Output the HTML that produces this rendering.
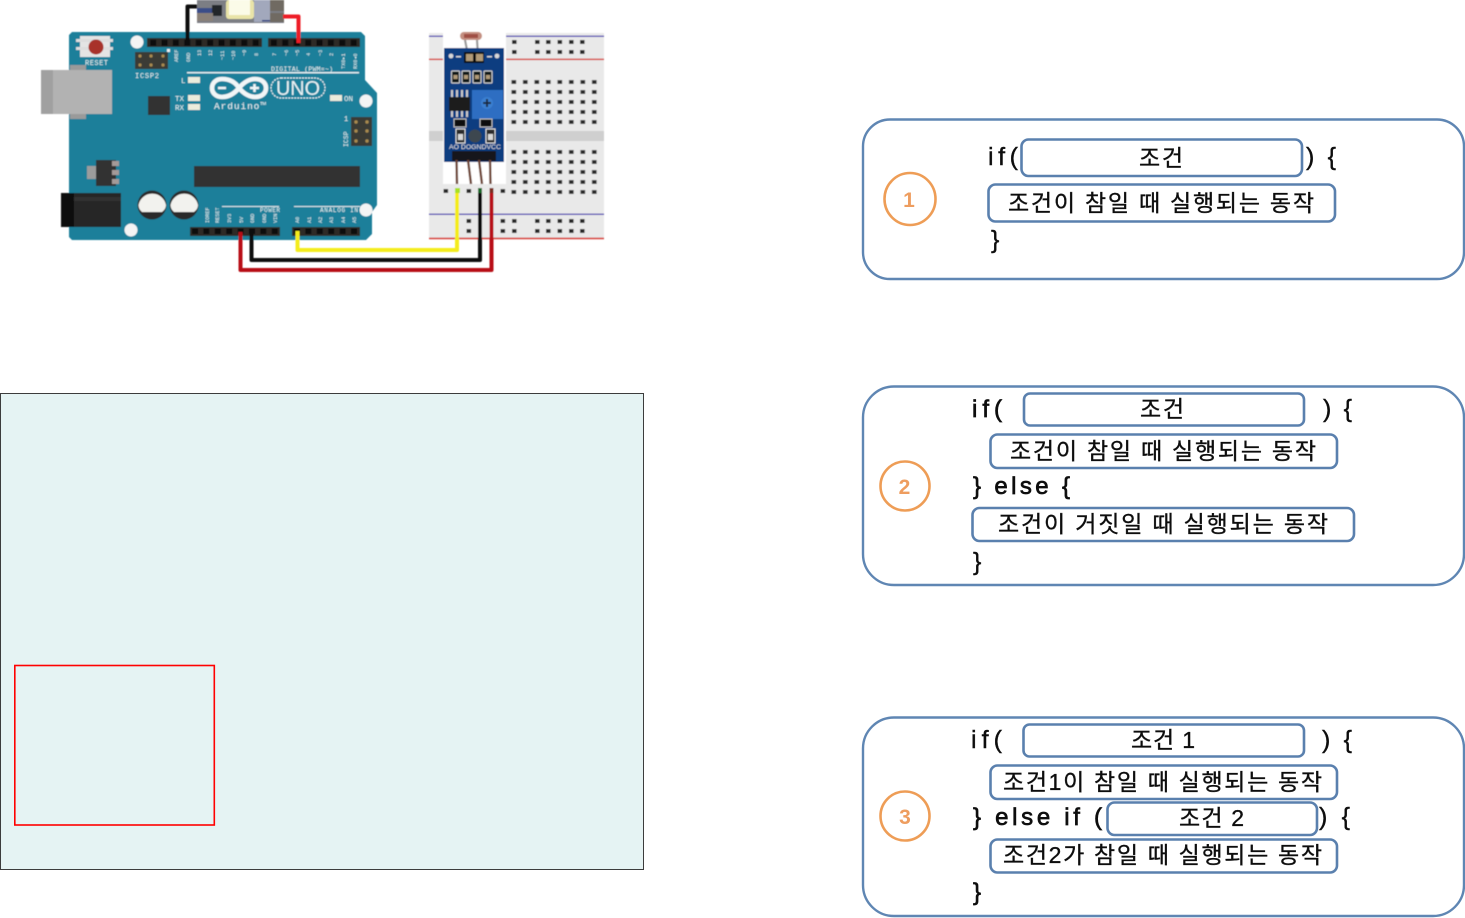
<!DOCTYPE html>
<html lang="ko">
<head>
<meta charset="utf-8">
<title>Arduino if statements</title>
<style>
html,body{margin:0;padding:0;background:#fff;width:1465px;height:918px;overflow:hidden}
svg{display:block}
text{font-family:"Liberation Sans","Noto Sans CJK KR",sans-serif}
.p{fill:#fff;stroke:#5f86b3;stroke-width:2.4}
.b{fill:#fff;stroke:#5a80ae;stroke-width:2.6}
.k{font-size:23px;fill:#111;stroke:#111;stroke-width:.35}
.c{font-size:25px;fill:#111;stroke:#111;stroke-width:.4}
.cb{font-size:24px;fill:#111;stroke:#111;stroke-width:.7}
.n{font-size:21px;font-weight:bold;fill:#ee9d5e;text-anchor:middle}
.o{fill:#fff;stroke:#ee9d57;stroke-width:2.6}
.t{fill:#e8f4f4;font-size:7px;font-family:"Liberation Mono",monospace}
.s{font-size:5.2px}
</style>
</head>
<body>
<svg width="1465" height="918" viewBox="0 0 1465 918" xmlns="http://www.w3.org/2000/svg">
<defs>
<filter id="soft" x="-2%" y="-2%" width="104%" height="104%"><feGaussianBlur stdDeviation="0.55"/></filter>
<filter id="soft2" x="-2%" y="-2%" width="104%" height="104%"><feGaussianBlur stdDeviation="0.3"/></filter>
<pattern id="hole" width="11.5" height="10" patternUnits="userSpaceOnUse" x="508.2" y="77">
<rect x="3.300" y="3" width="4.600" height="4" fill="#2c2c2c"/>
</pattern>
<pattern id="pin" width="11.4" height="10" patternUnits="userSpaceOnUse" x="147.6" y="38">
<rect x="2.5" y="1.8" width="6" height="6" fill="#0c0c0c"/>
</pattern>
<pattern id="pin2" width="11.4" height="10" patternUnits="userSpaceOnUse" x="268.4" y="38">
<rect x="2.5" y="1.8" width="6" height="6" fill="#0c0c0c"/>
</pattern>
<pattern id="pin3" width="11.4" height="9" patternUnits="userSpaceOnUse" x="189.5" y="227">
<rect x="2.5" y="1.5" width="6" height="5.5" fill="#0c0c0c"/>
</pattern>
<pattern id="pin4" width="11.4" height="9" patternUnits="userSpaceOnUse" x="291.5" y="227">
<rect x="2.5" y="1.5" width="6" height="5.5" fill="#0c0c0c"/>
</pattern>
</defs>

<g filter="url(#soft)">
<!-- Breadboard -->
<rect x="429" y="33" width="175" height="206" fill="#e9e9e9"/>
<rect x="429" y="131" width="175" height="10" fill="#cfcfcf"/>
<rect x="429" y="35.500" width="175" height="1.500" fill="#5f56b8"/>
<rect x="429" y="58.500" width="175" height="1.600" fill="#d8504a"/>
<rect x="429" y="213.500" width="175" height="1.500" fill="#5f56b8"/>
<rect x="429" y="237.500" width="175" height="1.800" fill="#d8504a"/>
<rect x="508" y="77" width="92" height="50" fill="url(#hole)"/>
<g fill="#2c2c2c">
<rect x="512" y="40" width="4.600" height="4"/><rect x="535" y="40" width="4.600" height="4"/><rect x="546" y="40" width="4.600" height="4"/><rect x="557.500" y="40" width="4.600" height="4"/><rect x="569" y="40" width="4.600" height="4"/><rect x="580" y="40" width="4.600" height="4"/>
<rect x="512" y="50" width="4.600" height="4"/><rect x="535" y="50" width="4.600" height="4"/><rect x="546" y="50" width="4.600" height="4"/><rect x="557.500" y="50" width="4.600" height="4"/><rect x="569" y="50" width="4.600" height="4"/><rect x="580" y="50" width="4.600" height="4"/>
<rect x="466.500" y="219" width="4.600" height="4"/><rect x="500.500" y="219" width="4.600" height="4"/><rect x="512" y="219" width="4.600" height="4"/><rect x="535" y="219" width="4.600" height="4"/><rect x="546" y="219" width="4.600" height="4"/><rect x="557.500" y="219" width="4.600" height="4"/><rect x="569" y="219" width="4.600" height="4"/><rect x="580" y="219" width="4.600" height="4"/>
<rect x="466.500" y="229" width="4.600" height="4"/><rect x="500.500" y="229" width="4.600" height="4"/><rect x="512" y="229" width="4.600" height="4"/><rect x="535" y="229" width="4.600" height="4"/><rect x="546" y="229" width="4.600" height="4"/><rect x="557.500" y="229" width="4.600" height="4"/><rect x="569" y="229" width="4.600" height="4"/><rect x="580" y="229" width="4.600" height="4"/>
<rect x="443.500" y="189" width="4.600" height="4"/><rect x="466.500" y="189" width="4.600" height="4"/><rect x="500.500" y="189" width="4.600" height="4"/>
</g>
<rect x="508" y="147" width="92" height="50" fill="url(#hole)"/>

<!-- Sensor module -->
<rect x="443" y="33" width="63" height="151" fill="#fff"/>
<rect x="460" y="32" width="22" height="8" rx="4" fill="#c48f80"/>
<rect x="464" y="34" width="14" height="4" fill="#a05044"/>
<path d="M465 40 L468 55 M477 40 L478 55" stroke="#999" stroke-width="2.200" fill="none"/>
<rect x="444" y="48" width="60" height="114" fill="#0d3c80"/>
<circle cx="451" cy="56" r="2.4" fill="#d8d8d8"/><circle cx="497" cy="56" r="2.4" fill="#d8d8d8"/>
<rect x="464" y="52" width="20" height="11" fill="#111"/>
<rect x="466" y="54" width="7" height="7" fill="#b09a78"/><rect x="476" y="54" width="7" height="7" fill="#b09a78"/>
<g fill="#ddd"><rect x="456" y="56" width="5" height="1.4"/><rect x="487" y="56" width="5" height="1.4"/></g>
<g fill="#101418" stroke="#c9c9c9" stroke-width="1.2">
<rect x="451.5" y="71" width="8" height="12" rx="1"/><rect x="462" y="71" width="8" height="12" rx="1"/>
<rect x="473" y="71" width="8" height="12" rx="1"/><rect x="484" y="71" width="8" height="12" rx="1"/>
</g>
<g fill="#b09a78"><rect x="453.5" y="75" width="4" height="4"/><rect x="464" y="75" width="4" height="4"/><rect x="475" y="75" width="4" height="4"/><rect x="486" y="75" width="4" height="4"/></g>
<rect x="449" y="97" width="21" height="14" fill="#1a1a1a"/>
<g fill="#ccc"><rect x="451" y="90" width="2" height="7"/><rect x="456" y="90" width="2" height="7"/><rect x="461" y="90" width="2" height="7"/><rect x="466" y="90" width="2" height="7"/><rect x="451" y="111" width="2" height="6"/><rect x="456" y="111" width="2" height="6"/><rect x="461" y="111" width="2" height="6"/><rect x="466" y="111" width="2" height="6"/></g>
<rect x="472" y="90" width="31" height="29" fill="#2f6ec2"/>
<circle cx="487" cy="103" r="6" fill="#3b7fd0"/>
<path d="M483 103h8M487 99v8" stroke="#1a2a40" stroke-width="2"/>
<rect x="454" y="119" width="12" height="8" fill="#111" stroke="#bbb"/>
<rect x="480" y="119" width="12" height="8" fill="#111" stroke="#bbb"/>
<rect x="456" y="129" width="9" height="14" fill="#2a2a2a" stroke="#ddd"/><rect x="458" y="134" width="5" height="6" fill="#d8d8d8"/>
<rect x="486" y="129" width="9" height="14" fill="#2a2a2a" stroke="#ddd"/><rect x="488" y="134" width="5" height="6" fill="#d8d8d8"/>
<circle cx="475" cy="136" r="6.5" fill="#3d4650"/>
<text x="449" y="149" font-size="6" fill="#e0e0e0" textLength="52" lengthAdjust="spacingAndGlyphs">AO DOGNDVCC</text>
<rect x="452" y="151" width="44" height="10" fill="#17191d"/>
<g stroke="#6e4436" stroke-width="2.400" fill="none">
<path d="M456.5 160 L457 184"/><path d="M468 160 L471 184"/><path d="M479 160 L482 184"/><path d="M490 160 L490.5 184"/>
</g>

<!-- Board -->
<path d="M72 32 H361 L365 36 V80 L377 93 V205 L372 212 V234 L366 240 H72 L69 237 V35 Z" fill="#1f7f9a"/>
<rect x="41" y="70" width="71" height="44" fill="#b2b2b2"/>
<rect x="41" y="70" width="12" height="44" fill="#a0a0a0"/>
<rect x="70" y="65" width="16" height="5" fill="#9a9a9a"/><rect x="70" y="114" width="16" height="5" fill="#9a9a9a"/>
<circle cx="137" cy="42" r="6.5" fill="#f4f4f4"/><circle cx="366" cy="101" r="6.5" fill="#f4f4f4"/>
<circle cx="366" cy="210" r="6.5" fill="#f4f4f4"/><circle cx="131" cy="230" r="6.5" fill="#f4f4f4"/>
<!-- reset -->
<rect x="80" y="36" width="30" height="21" fill="#e4e4e4"/>
<rect x="76" y="39" width="37" height="3" fill="#ddd"/><rect x="76" y="47" width="37" height="3" fill="#ddd"/>
<circle cx="96" cy="47" r="7.5" fill="#a8322c"/>
<text x="85" y="65" class="t" textLength="23">RESET</text>
<!-- ICSP2 -->
<rect x="135" y="52" width="33" height="17" fill="#3a3a36"/>
<g fill="#a98a50"><circle cx="140" cy="56" r="1.6"/><circle cx="151" cy="56" r="1.6"/><circle cx="163" cy="56" r="1.6"/><circle cx="140" cy="65" r="1.6"/><circle cx="151" cy="65" r="1.6"/><circle cx="163" cy="65" r="1.6"/></g>
<text x="135" y="78" class="t" textLength="24">ICSP2</text>
<!-- headers -->
<rect x="147" y="38" width="115" height="9" fill="#2d2c28"/><rect x="147.6" y="38" width="114" height="9" fill="url(#pin)"/>
<rect x="268" y="38" width="92" height="9" fill="#2d2c28"/><rect x="268.4" y="38" width="91" height="9" fill="url(#pin2)"/>
<rect x="190" y="227" width="90" height="9" fill="#2d2c28"/><rect x="189.5" y="227" width="91" height="9" fill="url(#pin3)"/>
<rect x="292" y="227" width="68" height="9" fill="#2d2c28"/><rect x="291.5" y="227" width="68.4" height="9" fill="url(#pin4)"/>
<rect x="167" y="49" width="3" height="3" fill="#f0f0f0"/>
<!-- pin labels -->
<g class="t" style="font-size:5.200px">
<text class="t s" transform="translate(178,62) rotate(-90)">AREF</text><text class="t s" transform="translate(190,62) rotate(-90)">GND</text>
<text class="t s" transform="translate(201,56) rotate(-90)">13</text><text class="t s" transform="translate(212,56) rotate(-90)">12</text>
<text class="t s" transform="translate(224,60) rotate(-90)">~11</text><text class="t s" transform="translate(235,60) rotate(-90)">~10</text>
<text class="t s" transform="translate(246,56) rotate(-90)">~9</text><text class="t s" transform="translate(258,56) rotate(-90)">8</text>
<text class="t s" transform="translate(276,56) rotate(-90)">7</text><text class="t s" transform="translate(288,56) rotate(-90)">~6</text>
<text class="t s" transform="translate(299,56) rotate(-90)">~5</text><text class="t s" transform="translate(310,56) rotate(-90)">4</text>
<text class="t s" transform="translate(322,56) rotate(-90)">~3</text><text class="t s" transform="translate(333,56) rotate(-90)">2</text>
<text class="t s" transform="translate(345,69) rotate(-90)">TX0▸1</text><text class="t s" transform="translate(357,69) rotate(-90)">RX0◂0</text>
<text class="t s" transform="translate(209,223) rotate(-90)">IOREF</text><text class="t s" transform="translate(219,223) rotate(-90)">RESET</text>
<text class="t s" transform="translate(231,223) rotate(-90)">3V3</text><text class="t s" transform="translate(243,223) rotate(-90)">5V</text>
<text class="t s" transform="translate(254,223) rotate(-90)">GND</text><text class="t s" transform="translate(266,223) rotate(-90)">GND</text>
<text class="t s" transform="translate(277,223) rotate(-90)">VIN</text>
<text class="t s" transform="translate(299,223) rotate(-90)">A0</text><text class="t s" transform="translate(311,223) rotate(-90)">A1</text>
<text class="t s" transform="translate(322,223) rotate(-90)">A2</text><text class="t s" transform="translate(333,223) rotate(-90)">A3</text>
<text class="t s" transform="translate(345,223) rotate(-90)">A4</text><text class="t s" transform="translate(356,223) rotate(-90)">A5</text>
</g>
<text x="271" y="71" class="t" textLength="62" style="font-size:6.5px">DIGITAL (PWM=~)</text>
<rect x="187" y="72" width="172" height="1.4" fill="#e8f2f4"/>
<text x="260" y="212" class="t" textLength="20" style="font-size:6px">POWER</text>
<text x="320" y="212" class="t" textLength="38" style="font-size:6px">ANALOG IN</text>
<rect x="222" y="206" width="57" height="1" fill="#d8e8ec"/><rect x="294" y="206" width="66" height="1" fill="#d8e8ec"/>
<!-- LEDs -->
<text x="181" y="83" class="t" style="font-size:7.5px">L</text>
<text x="175" y="101" class="t" style="font-size:7.5px">TX</text>
<text x="175" y="110" class="t" style="font-size:7.5px">RX</text>
<g fill="#ececdc"><rect x="188" y="77" width="12" height="6"/><rect x="188" y="95" width="12" height="6"/><rect x="188" y="104" width="12" height="6"/><rect x="330" y="95" width="12" height="6"/></g>
<text x="344" y="101" class="t" style="font-size:7.5px">ON</text>
<rect x="148" y="96" width="22" height="19" fill="#333333"/>
<!-- logo -->
<g fill="none" stroke="#f2f6f7" stroke-width="4.600">
<path d="M239 88 C234 80 226 79 222 79 C216 79 212 83 212 88 C212 93 216 97 222 97 C228 97 234 94 239 88 C244 82 250 79 255 79 C262 79 266 83 266 88 C266 93 262 97 255 97 C250 97 244 94 239 88 Z"/>
</g>
<path d="M218 88h8M250 88h9M254.500 84v8" stroke="#f2f6f7" stroke-width="2.600"/>
<rect x="271" y="78" width="54" height="20" rx="10" fill="none" stroke="#e8f2f4" stroke-width="1.2" stroke-dasharray="2 1"/>
<text x="298" y="95" font-size="20" fill="#e8f2f4" text-anchor="middle" textLength="44" lengthAdjust="spacingAndGlyphs">UNO</text>
<text x="214" y="109" font-size="9.500" fill="#eef5f6" textLength="52" style="font-family:'Liberation Mono',monospace">Arduino™</text>
<!-- ICSP -->
<rect x="351" y="117" width="21" height="29" fill="#3a3a36"/>
<g fill="#a98a50"><circle cx="356" cy="122" r="1.7"/><circle cx="367" cy="122" r="1.7"/><circle cx="356" cy="131" r="1.7"/><circle cx="367" cy="131" r="1.7"/><circle cx="356" cy="141" r="1.7"/><circle cx="367" cy="141" r="1.7"/></g>
<text x="344" y="121" class="t" style="font-size:7px">1</text>
<text transform="translate(348,147) rotate(-90)" class="t" style="font-size:6.500px">ICSP</text>
<!-- regulator -->
<rect x="87" y="166" width="10" height="13" fill="#9c9c9c"/>
<rect x="96" y="160" width="20" height="26" fill="#333"/>
<rect x="112" y="161" width="7" height="5" fill="#a49a98"/><rect x="112" y="170" width="7" height="5" fill="#a49a98"/><rect x="112" y="179" width="7" height="5" fill="#a49a98"/>
<!-- chip -->
<rect x="194" y="166" width="166" height="21" fill="#333"/>
<!-- jack -->
<rect x="61" y="193" width="60" height="34" fill="#252525"/>
<rect x="61" y="193" width="13" height="34" fill="#0e0e0e"/>
<rect x="74" y="197" width="47" height="4" fill="#333"/>
<!-- caps -->
<circle cx="152" cy="205" r="14.500" fill="#2a2a2a"/>
<circle cx="184" cy="205" r="14.500" fill="#2a2a2a"/>
<path d="M138.500 205 A14 14 0 0 1 166 205 Q166 209 162 212 H142 Q138.500 209 138.500 205Z" fill="#f2f2ee"/>
<path d="M170.500 205 A14 14 0 0 1 198 205 Q198 209 194 212 H174 Q170.500 209 170.500 205Z" fill="#f2f2ee"/>

<!-- LED module top -->
<rect x="197" y="0" width="87" height="23" fill="#7c7e84"/>
<rect x="197" y="8" width="24" height="5" fill="#3a4d88"/>
<rect x="212" y="5" width="10" height="11" fill="#20252a"/>
<rect x="197" y="13" width="16" height="8" fill="#8a8078"/>
<rect x="226" y="0" width="28" height="19" rx="3" fill="#e9e4a8"/>
<rect x="229" y="0" width="21" height="15" fill="#fbfbe8"/>
<rect x="254" y="0" width="16" height="22" fill="#a2a8bc"/>
<rect x="270" y="0" width="14" height="11" fill="#6f6a62"/>
<rect x="270" y="13" width="14" height="9" fill="#6f6a62"/>
<rect x="262" y="20" width="8" height="1.5" fill="#2d3f80"/>

<!-- Wires -->
<g fill="none" stroke-linejoin="round">
<path d="M197 6.500 H187.500 V45" stroke="#0c0c0c" stroke-width="4"/>
<path d="M283 16.500 H298.500 V43" stroke="#ee1c25" stroke-width="4"/>
<path d="M457 190 V250 H297.500 V231" stroke="#f4ec1c" stroke-width="4"/>
<path d="M480 189 V260 H251.500 V232" stroke="#111" stroke-width="4"/>
<path d="M491.500 190 V270 H240.500 V232" stroke="#b80f14" stroke-width="4"/>
</g>
<rect x="455" y="188" width="5" height="5" fill="#a8e020"/>
<rect x="478" y="188" width="4" height="5" fill="#1f6a2a"/>
<rect x="489.500" y="188" width="4" height="5" fill="#7a2a1a"/>
</g>

<!-- Teal panel -->
<rect x="0.500" y="393.500" width="643" height="476" fill="#e5f3f3" stroke="#3c3c3c" stroke-width="1"/>
<rect x="14.800" y="665.500" width="199.500" height="159.500" fill="none" stroke="#f00" stroke-width="1.600"/>

<g filter="url(#soft2)">
<!-- Panel 1 -->
<rect class="p" x="863" y="119.500" width="601" height="159.500" rx="27"/>
<ellipse class="o" cx="910" cy="199" rx="25.500" ry="26"/>
<text class="n" x="909" y="207">1</text>
<rect class="b" x="1021.500" y="139.500" width="280.500" height="36.500" rx="7"/>
<rect class="b" x="988.500" y="184.500" width="346.500" height="37" rx="7"/>
<text class="c" x="988" y="165" textLength="30">if(</text>
<text class="k" x="1139" y="166" textLength="44">조건</text>
<text class="c" x="1306" y="165" textLength="30">) {</text>
<text class="k" x="1008" y="211" textLength="306">조건이 참일 때 실행되는 동작</text>
<text class="c" x="991" y="248">}</text>

<!-- Panel 2 -->
<rect class="p" x="863" y="386.500" width="601" height="198.500" rx="31"/>
<circle class="o" cx="905" cy="486" r="24.500"/>
<text class="n" x="904.500" y="494">2</text>
<rect class="b" x="1024" y="393.500" width="280" height="32" rx="6"/>
<rect class="b" x="990.500" y="434.500" width="346.500" height="33.500" rx="7"/>
<rect class="b" x="972.500" y="508" width="381.500" height="33" rx="7"/>
<text class="cb" x="972" y="417" textLength="30">if(</text>
<text class="k" x="1140" y="417" textLength="44">조건</text>
<text class="c" x="1323" y="417" textLength="29">) {</text>
<text class="k" x="1010" y="459" textLength="306">조건이 참일 때 실행되는 동작</text>
<text class="cb" x="973" y="494" textLength="97">} else {</text>
<text class="k" x="998" y="532" textLength="330">조건이 거짓일 때 실행되는 동작</text>
<text class="c" x="973" y="570">}</text>

<!-- Panel 3 -->
<rect class="p" x="863" y="717.500" width="601" height="198.500" rx="31"/>
<circle class="o" cx="905" cy="816" r="24.500"/>
<text class="n" x="905" y="824">3</text>
<rect class="b" x="1023.500" y="724.500" width="280.500" height="32" rx="6"/>
<rect class="b" x="990.500" y="765.500" width="346.500" height="33.500" rx="7"/>
<rect class="b" x="1107.500" y="802.500" width="209.500" height="32.500" rx="7"/>
<rect class="b" x="990.500" y="839.500" width="346.500" height="33" rx="7"/>
<text class="c" x="971" y="748" textLength="31">if(</text>
<text class="k" x="1131" y="748" textLength="64">조건 1</text>
<text class="c" x="1322" y="748" textLength="30">) {</text>
<text class="k" x="1003" y="790" textLength="319">조건1이 참일 때 실행되는 동작</text>
<text class="cb" x="973" y="825" textLength="129">} else if (</text>
<text class="k" x="1179" y="826" textLength="65">조건 2</text>
<text class="c" x="1319" y="825" textLength="31">) {</text>
<text class="k" x="1003" y="863" textLength="319">조건2가 참일 때 실행되는 동작</text>
<text class="cb" x="973" y="900">}</text>
</g>
</svg>
</body>
</html>
